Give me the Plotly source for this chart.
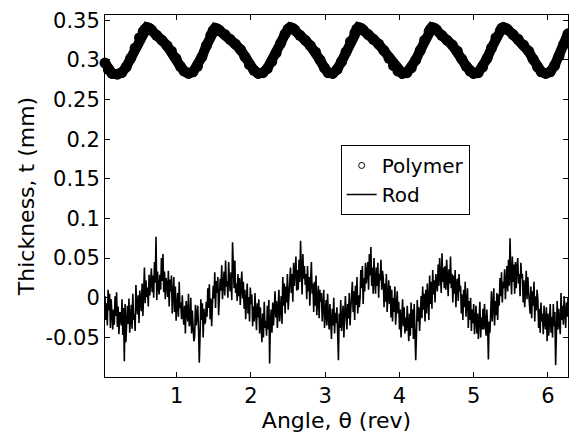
import numpy as np
import plotly.graph_objects as go

# Polymer thickness (mm) vs angle (rev)
polymer_x = [0.035, 0.08, 0.13, 0.20, 0.26, 0.32, 0.38, 0.44, 0.50, 0.55, 0.575, 0.60, 0.63, 0.66, 0.73, 0.80, 0.87, 0.93, 0.99, 1.05, 1.10, 1.16,
             1.22, 1.28, 1.34, 1.40, 1.46, 1.49, 1.52, 1.55, 1.58, 1.65, 1.72, 1.79, 1.86, 1.92, 1.98, 2.04, 2.10,
             2.16, 2.22, 2.28, 2.34, 2.40, 2.46, 2.50, 2.53, 2.56, 2.59, 2.66, 2.73, 2.80, 2.87, 2.93, 2.99, 3.04,
             3.10, 3.16, 3.22, 3.28, 3.34, 3.40, 3.425, 3.45, 3.48, 3.51, 3.58, 3.65, 3.72, 3.79, 3.86, 3.92, 3.98, 4.04,
             4.10, 4.16, 4.22, 4.28, 4.34, 4.40, 4.42, 4.44, 4.47, 4.50, 4.57, 4.64, 4.71, 4.78, 4.84, 4.90, 4.95, 5.00,
             5.06, 5.12, 5.18, 5.24, 5.30, 5.36, 5.38, 5.40, 5.43, 5.46, 5.53, 5.60, 5.67, 5.74, 5.80, 5.86, 5.91, 5.97,
             6.03, 6.09, 6.15, 6.21, 6.27]
polymer_y = [0.296, 0.288, 0.283, 0.282, 0.284, 0.291, 0.302, 0.315, 0.328, 0.336, 0.339, 0.341, 0.340, 0.338, 0.331, 0.325, 0.318, 0.311, 0.302, 0.292, 0.286, 0.283,
             0.285, 0.292, 0.304, 0.318, 0.331, 0.337, 0.340, 0.339, 0.337, 0.332, 0.326, 0.320, 0.313, 0.304, 0.294, 0.287, 0.283,
             0.284, 0.289, 0.298, 0.309, 0.321, 0.333, 0.339, 0.341, 0.340, 0.338, 0.331, 0.325, 0.318, 0.310, 0.300, 0.290, 0.284,
             0.283, 0.288, 0.298, 0.310, 0.323, 0.334, 0.339, 0.341, 0.340, 0.338, 0.332, 0.326, 0.320, 0.312, 0.302, 0.293, 0.286, 0.283,
             0.284, 0.290, 0.300, 0.312, 0.325, 0.336, 0.339, 0.341, 0.340, 0.338, 0.331, 0.325, 0.319, 0.311, 0.301, 0.292, 0.286, 0.283,
             0.284, 0.291, 0.302, 0.315, 0.328, 0.337, 0.340, 0.341, 0.340, 0.338, 0.332, 0.326, 0.319, 0.311, 0.301, 0.291, 0.285, 0.283,
             0.285, 0.293, 0.305, 0.319, 0.333]

rod_y = [
    0.002, -0.028, -0.007, -0.035, 0.010, -0.016, 0.005, -0.038, -0.002, -0.021,
    -0.040, -0.015, -0.034, 0.002, -0.023, 0.007, -0.037, -0.011, -0.046, -0.019,
    -0.019, -0.035, -0.002, -0.047, -0.013, -0.080, -0.008, -0.056, -0.022, -0.010,
    -0.033, -0.001, -0.044, -0.018, -0.009, -0.039, 0.005, -0.028, -0.021, -0.042,
    0.016, -0.009, -0.021, 0.003, -0.032, 0.009, -0.002, -0.017, 0.018, -0.023,
    0.006, 0.038, -0.007, 0.022, 0.001, 0.013, -0.011, 0.029, 0.003, 0.024,
    0.037, 0.007, 0.028, 0.000, 0.045, 0.019, 0.077, -0.003, 0.033, 0.014,
    0.004, 0.029, 0.010, 0.050, 0.021, 0.055, 0.007, 0.033, -0.002, 0.025,
    0.017, 0.001, 0.034, -0.011, 0.023, 0.008, 0.028, -0.020, 0.014, 0.026,
    -0.018, 0.014, -0.029, -0.003, 0.006, -0.024, 0.020, -0.013, -0.006, -0.027,
    0.003, -0.022, -0.034, -0.010, -0.045, -0.004, -0.015, -0.030, 0.005, -0.036,
    -0.032, 0.000, -0.045, -0.016, -0.037, -0.055, -0.049, -0.009, -0.035, -0.014,
    -0.010, -0.040, -0.082, -0.047, -0.002, -0.028, -0.007, -0.050, -0.014, -0.033,
    -0.030, -0.005, -0.024, 0.012, -0.013, 0.017, -0.027, -0.001, -0.036, -0.009,
    0.015, -0.001, 0.032, -0.013, 0.021, 0.006, 0.026, -0.022, 0.012, 0.024,
    0.009, 0.041, -0.002, 0.024, 0.033, 0.003, 0.047, 0.014, 0.021, 0.000,
    0.045, 0.020, 0.008, 0.032, -0.003, 0.070, 0.027, 0.012, 0.047, 0.006,
    0.018, -0.004, 0.030, 0.002, 0.025, -0.009, 0.014, 0.033, -0.001, 0.020,
    -0.014, 0.010, -0.027, 0.006, 0.018, -0.020, 0.001, -0.030, 0.013, -0.008,
    0.004, -0.036, -0.011, -0.030, 0.006, -0.019, -0.041, -0.007, -0.025, -0.002,
    -0.045, -0.012, -0.033, -0.056, -0.020, -0.050, -0.005, -0.038, -0.029, -0.048,
    -0.010, -0.040, -0.003, -0.083, -0.030, -0.015, -0.044, -0.006, -0.035, -0.020,
    0.008, -0.025, -0.004, -0.038, -0.015, 0.010, -0.030, -0.019, 0.002, -0.033,
    0.026, -0.010, 0.018, -0.020, 0.014, -0.006, 0.030, -0.015, 0.009, 0.021,
    0.038, 0.006, 0.030, -0.005, 0.044, 0.015, 0.028, 0.052, 0.009, 0.035,
    0.010, 0.048, 0.020, 0.072, 0.035, 0.004, 0.055, 0.024, 0.040, 0.016,
    0.030, -0.002, 0.040, 0.008, 0.026, -0.010, 0.022, 0.045, 0.005, 0.018,
    -0.018, 0.020, -0.010, 0.028, -0.022, 0.005, 0.015, -0.026, 0.010, -0.005,
    0.006, -0.030, -0.015, 0.010, -0.038, -0.020, -0.003, -0.035, 0.005, -0.024,
    -0.040, -0.008, -0.030, -0.052, -0.014, -0.035, 0.000, -0.045, -0.019, -0.032,
    -0.012, -0.048, -0.079, -0.020, -0.038, -0.003, -0.042, -0.028, -0.010, -0.050,
    -0.030, 0.002, -0.022, -0.040, -0.008, -0.026, 0.006, -0.035, -0.014, -0.001,
    0.020, -0.018, 0.008, -0.028, 0.015, -0.009, 0.026, -0.020, 0.003, -0.012,
    0.000, 0.035, 0.012, 0.040, -0.008, 0.025, 0.008, 0.044, 0.018, 0.030,
    0.045, 0.010, 0.055, 0.028, 0.064, 0.015, 0.038, 0.005, 0.050, 0.022,
    0.005, 0.038, 0.015, 0.044, 0.000, 0.030, 0.022, 0.048, 0.010, 0.034,
    0.025, -0.012, 0.018, -0.005, 0.030, -0.018, 0.010, 0.022, -0.008, 0.015,
    -0.025, 0.010, -0.030, 0.000, -0.018, 0.014, -0.034, -0.006, 0.008, -0.020,
    -0.005, -0.040, -0.015, -0.050, -0.028, -0.002, -0.036, -0.012, -0.045, -0.025,
    -0.042, -0.010, -0.033, -0.055, -0.020, -0.048, -0.006, -0.038, -0.015, -0.052,
    -0.008, -0.036, -0.079, -0.045, -0.003, -0.030, -0.012, -0.042, -0.018, 0.002,
    -0.026, 0.014, -0.015, 0.005, -0.030, 0.010, -0.020, 0.018, -0.002, -0.028,
    0.028, -0.008, 0.020, -0.014, 0.035, 0.004, 0.022, -0.006, 0.030, 0.012,
    0.008, 0.042, 0.015, 0.050, 0.028, 0.006, 0.056, 0.020, 0.038, 0.012,
    0.040, 0.010, 0.048, 0.025, 0.002, 0.036, 0.018, 0.052, 0.012, 0.030,
    -0.006, 0.028, 0.005, 0.035, -0.012, 0.018, 0.024, -0.004, 0.030, 0.008,
    0.015, -0.020, 0.004, -0.028, 0.010, -0.012, 0.020, -0.024, -0.002, 0.012,
    -0.038, -0.004, -0.028, 0.000, -0.042, -0.015, -0.032, -0.008, -0.046, -0.020,
    -0.010, -0.045, -0.020, -0.052, -0.035, -0.005, -0.050, -0.025, -0.040, -0.014,
    -0.040, -0.008, -0.032, -0.048, -0.015, -0.036, -0.078, -0.030, -0.044, -0.012,
    0.008, -0.030, -0.014, 0.012, -0.035, -0.004, -0.022, 0.006, -0.028, 0.004,
    -0.010, 0.025, 0.002, 0.032, -0.006, 0.020, 0.012, 0.036, -0.002, 0.028,
    0.040, 0.008, 0.048, 0.015, 0.075, 0.030, 0.004, 0.052, 0.020, 0.042,
    0.005, 0.045, 0.012, 0.038, 0.050, 0.018, 0.030, 0.002, 0.044, 0.025,
    0.030, -0.006, 0.022, -0.012, 0.018, 0.034, -0.002, 0.026, 0.008, -0.010,
    -0.020, 0.014, -0.026, 0.008, -0.010, 0.020, -0.030, 0.002, -0.016, 0.010,
    -0.002, -0.038, -0.014, -0.044, -0.006, -0.030, -0.020, -0.046, -0.010, -0.032,
    -0.040, -0.012, -0.055, -0.020, -0.048, -0.030, -0.008, -0.044, -0.024, -0.050,
    -0.008, -0.036, -0.018, -0.085, -0.028, -0.004, -0.040, -0.014, -0.032, -0.046,
    0.006, -0.028, -0.010, -0.034, 0.002, -0.020, -0.038, -0.006, -0.024, 0.000,
]
rod_x = np.linspace(0.035, 6.27, len(rod_y))

x_tickvals = [1, 2, 3, 4, 5, 6]
y_tickvals = [-0.05, 0, 0.05, 0.1, 0.15, 0.2, 0.25, 0.3, 0.35]
y_ticktext = ["-0.05", "0", "0.05", "0.1", "0.15", "0.2", "0.25", "0.3", "0.35"]

FONT = "DejaVu Sans"

fig = go.Figure()
fig.add_trace(go.Scatter(
    x=polymer_x, y=polymer_y, mode="lines+markers",
    line=dict(color="black", width=10),
    marker=dict(color="black", size=11),
    showlegend=False, cliponaxis=False))
fig.add_trace(go.Scatter(
    x=[None], y=[None], mode="markers", name="Polymer",
    marker=dict(symbol="circle-open", size=6, color="black", line=dict(width=1, color="black"))))
fig.add_trace(go.Scatter(
    x=rod_x, y=rod_y, mode="lines", name="Rod",
    line=dict(color="black", width=1.6)))

axis_common = dict(
    showline=True, linecolor="black", linewidth=1, mirror="ticks",
    ticks="inside", ticklen=5, tickcolor="black", tickwidth=1,
    showgrid=False, zeroline=False,
    tickfont=dict(family=FONT, size=21, color="black"),
)

fig.update_layout(
    width=569, height=439,
    margin=dict(l=105, r=1, t=15, b=62),
    paper_bgcolor="white", plot_bgcolor="white",
    font=dict(family=FONT, color="black"),
    xaxis=dict(range=[0.035, 6.27], tickvals=x_tickvals,
               title=dict(text="Angle, θ (rev)", font=dict(family=FONT, size=22), standoff=2),
               **axis_common),
    yaxis=dict(range=[-0.1, 0.3567], tickvals=y_tickvals, ticktext=y_ticktext,
               title=dict(text="Thickness, t (mm)", font=dict(family=FONT, size=22), standoff=4),
               **axis_common),
    legend=dict(x=0.509, y=0.641, xanchor="left", yanchor="top",
                bordercolor="black", borderwidth=1, bgcolor="white",
                font=dict(family=FONT, size=20, color="black"),
                tracegroupgap=0, itemwidth=30),
)

fig.write_html("out.html")
